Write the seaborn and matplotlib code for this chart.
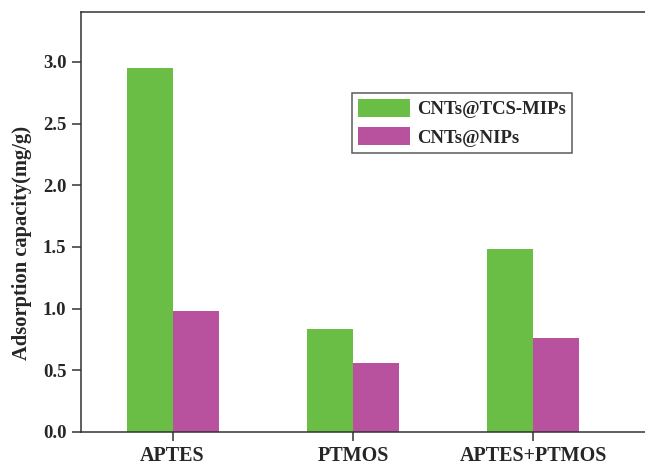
import matplotlib
matplotlib.use("Agg")
import matplotlib.pyplot as plt
import seaborn as sns
import pandas as pd

categories = ["APTES", "PTMOS", "APTES+PTMOS"]
mips = [2.95, 0.835, 1.485]
nips = [0.985, 0.56, 0.762]
series_names = ["CNTs@TCS-MIPs", "CNTs@NIPs"]
yticks = [0.0, 0.5, 1.0, 1.5, 2.0, 2.5, 3.0]

df = pd.DataFrame({
    "category": categories * 2,
    "value": mips + nips,
    "series": [series_names[0]] * 3 + [series_names[1]] * 3,
})

sns.set_style("ticks")
plt.rcParams["font.family"] = ["Liberation Serif", "DejaVu Serif"]
plt.rcParams["font.weight"] = "bold"

fig = plt.figure(figsize=(6.45, 4.68), dpi=100)
ax = fig.add_axes([81 / 645, 36 / 468, 1 - 81 / 645, (432 - 12) / 468])

sns.barplot(data=df, x="category", y="value", hue="series", ax=ax,
            palette=["#6BBE45", "#B8529E"], width=0.51, gap=0,
            saturation=1, linewidth=0, errorbar=None)

ax.set_xlim(-0.508, 2.62)
ax.set_ylim(0, 3.405)
ax.set_yticks(yticks)
ax.set_yticklabels([f"{t:.1f}" for t in yticks], fontsize=13.5, fontweight="bold")
ax.set_xticks(range(len(categories)))
ax.set_xticklabels(categories, fontsize=14.5, fontweight="bold")
ax.set_xlabel("")
ax.set_ylabel("Adsorption capacity(mg/g)", fontsize=14.8, fontweight="bold")
ax.yaxis.set_label_coords(-0.087, 0.45)

for side in ["left", "bottom", "top"]:
    ax.spines[side].set_color("#333333")
    ax.spines[side].set_linewidth(1.1)
ax.spines["right"].set_visible(False)
ax.tick_params(axis="both", direction="out", length=6.5, width=1.1, color="#333333")
ax.tick_params(axis="y", pad=4)
ax.tick_params(axis="x", pad=3.5)

leg = ax.legend(loc="upper left", bbox_to_anchor=((352 - 81) / 564, 1 - (92.7 - 12) / 420),
                borderaxespad=0, frameon=True, fancybox=False,
                handlelength=2.77, handleheight=1.07, labelspacing=0.5,
                borderpad=0.33, handletextpad=0.35,
                prop={"family": "Liberation Serif", "weight": "bold", "size": 13.5})
leg.get_frame().set_edgecolor("#333333")
leg.get_frame().set_linewidth(1.1)

fig.savefig("out.png", dpi=100)
